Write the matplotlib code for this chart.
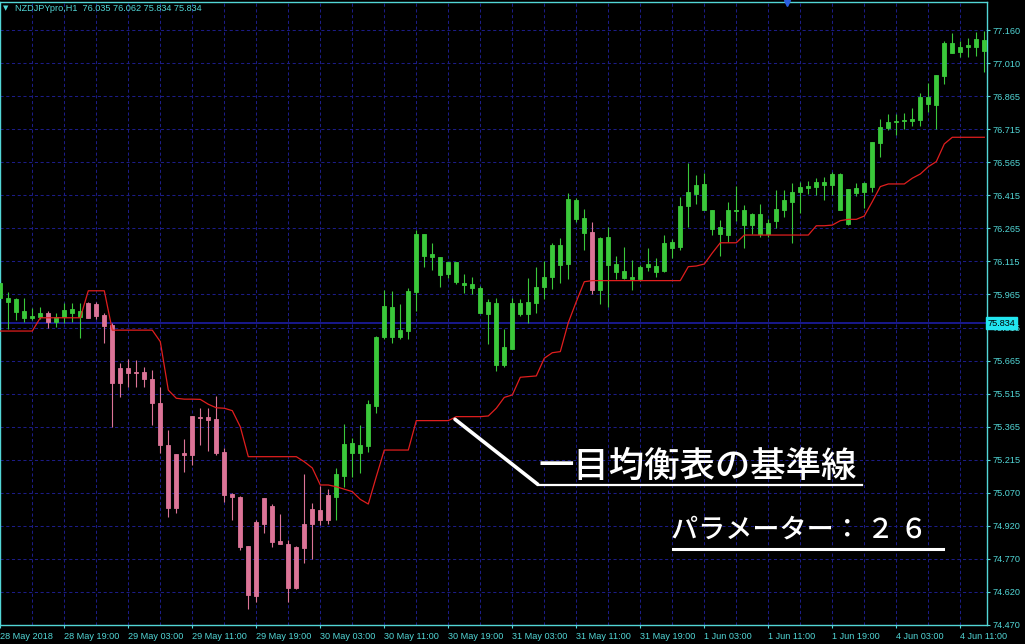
import matplotlib
matplotlib.use("Agg")
import matplotlib.pyplot as plt
from matplotlib.transforms import blended_transform_factory
import numpy as np

# ---------------- data ----------------
header_text = "NZDJPYpro,H1  76.035 76.062 75.834 75.834"
bid_price = 75.834

opens = [75.948, 75.932, 75.886, 75.858, 75.859, 75.864, 75.879, 75.841, 75.864, 75.882,
         75.864, 75.927, 75.921, 75.872, 75.826, 75.631, 75.631, 75.615, 75.615, 75.581,
         75.475, 75.284, 75.243, 75.246, 75.415, 75.412, 75.412, 75.401, 75.252, 75.062,
         75.050, 74.827, 74.937, 75.043, 75.009, 74.850, 74.836, 74.824, 74.927, 74.993,
         74.990, 75.058, 75.050, 75.144, 75.249, 75.249, 75.279, 75.460, 75.771, 75.771,
         75.771, 75.799, 75.977, 76.138, 76.135, 76.052, 76.057, 76.022, 76.006, 75.995,
         75.882, 75.876, 75.645, 75.645, 75.720, 75.876, 75.876, 75.927, 75.999, 76.045,
         76.098, 76.101, 76.304, 76.244, 76.245, 75.985, 76.098, 76.067, 76.037, 76.033,
         76.034, 76.087, 76.065, 76.072, 76.176, 76.180, 76.364, 76.418, 76.346, 76.259,
         76.238, 76.233, 76.340, 76.278, 76.278, 76.238, 76.238, 76.298, 76.346, 76.384,
         76.429, 76.447, 76.452, 76.459, 76.459, 76.346, 76.283, 76.423, 76.426, 76.452,
         76.650, 76.716, 76.745, 76.748, 76.750, 76.753, 76.825, 76.821, 76.952, 77.057,
         77.062, 77.082, 77.085, 77.066]
highs = [76.030, 75.977, 75.948, 75.948, 75.903, 75.908, 75.891, 75.882, 75.926, 75.926,
         75.926, 75.932, 75.932, 75.882, 75.834, 75.653, 75.671, 75.668, 75.638, 75.623,
         75.547, 75.352, 75.243, 75.310, 75.415, 75.450, 75.450, 75.505, 75.269, 75.067,
         75.053, 74.827, 74.945, 75.043, 75.017, 74.972, 74.855, 74.827, 75.151, 75.020,
         75.098, 75.084, 75.180, 75.379, 75.314, 75.374, 75.487, 75.777, 75.985, 75.981,
         75.921, 75.992, 76.256, 76.238, 76.198, 76.135, 76.112, 76.112, 76.057, 76.042,
         76.003, 75.942, 75.947, 75.807, 75.947, 75.942, 76.037, 76.087, 76.116, 76.198,
         76.218, 76.423, 76.399, 76.349, 76.293, 76.223, 76.268, 76.138, 76.180, 76.120,
         76.098, 76.173, 76.128, 76.233, 76.214, 76.405, 76.560, 76.504, 76.512, 76.346,
         76.301, 76.384, 76.455, 76.369, 76.334, 76.373, 76.304, 76.437, 76.437, 76.467,
         76.474, 76.479, 76.490, 76.494, 76.519, 76.515, 76.440, 76.470, 76.474, 76.652,
         76.756, 76.780, 76.780, 76.783, 76.806, 76.874, 76.919, 76.957, 77.112, 77.148,
         77.112, 77.122, 77.152, 77.157]
lows = [75.930, 75.807, 75.849, 75.841, 75.849, 75.853, 75.811, 75.819, 75.835, 75.841,
        75.768, 75.859, 75.852, 75.744, 75.364, 75.501, 75.547, 75.545, 75.545, 75.374,
        75.246, 74.960, 74.975, 75.163, 75.193, 75.284, 75.257, 75.239, 75.027, 74.945,
        74.809, 74.541, 74.575, 74.887, 74.821, 74.838, 74.575, 74.631, 74.752, 74.767,
        74.922, 74.927, 74.945, 75.095, 75.141, 75.156, 75.254, 75.430, 75.762, 75.746,
        75.764, 75.764, 75.891, 76.090, 76.075, 75.999, 76.037, 76.012, 75.972, 75.966,
        75.879, 75.740, 75.620, 75.638, 75.716, 75.867, 75.837, 75.879, 75.942, 75.988,
        76.015, 76.033, 76.293, 76.165, 75.966, 75.921, 75.906, 76.034, 76.033, 75.985,
        76.027, 76.072, 76.042, 76.067, 76.128, 76.165, 76.268, 76.373, 76.346, 76.233,
        76.138, 76.203, 76.298, 76.173, 76.238, 76.223, 76.225, 76.263, 76.313, 76.198,
        76.334, 76.418, 76.414, 76.391, 76.414, 76.346, 76.278, 76.410, 76.354, 76.429,
        76.584, 76.708, 76.685, 76.711, 76.726, 76.726, 76.791, 76.711, 76.916, 77.057,
        77.037, 77.037, 77.042, 76.971]
closes = [76.016, 75.950, 75.944, 75.890, 75.867, 75.882, 75.841, 75.864, 75.894, 75.899,
          75.891, 75.859, 75.868, 75.822, 75.565, 75.565, 75.608, 75.608, 75.581, 75.472,
          75.284, 74.999, 75.000, 75.239, 75.239, 75.406, 75.397, 75.246, 75.058, 75.050,
          74.824, 74.606, 74.601, 74.925, 74.847, 74.838, 74.636, 74.636, 74.820, 74.925,
          74.945, 74.945, 75.153, 75.288, 75.294, 75.284, 75.469, 75.771, 75.912, 75.906,
          75.803, 75.980, 76.238, 76.238, 76.146, 76.135, 76.112, 76.112, 76.018, 76.012,
          75.995, 75.932, 75.926, 75.728, 75.924, 75.924, 75.929, 75.999, 76.045, 76.188,
          76.188, 76.395, 76.391, 76.309, 75.985, 76.218, 76.223, 76.101, 76.070, 76.045,
          76.087, 76.102, 76.093, 76.198, 76.203, 76.364, 76.426, 76.459, 76.464, 76.346,
          76.268, 76.346, 76.346, 76.346, 76.328, 76.328, 76.289, 76.349, 76.391, 76.429,
          76.449, 76.455, 76.473, 76.473, 76.509, 76.509, 76.440, 76.444, 76.467, 76.652,
          76.720, 76.745, 76.750, 76.754, 76.759, 76.856, 76.856, 76.957, 77.103, 77.100,
          77.082, 77.092, 77.118, 77.115]
kijun = [75.799, 75.799, 75.799, 75.799, 75.799, 75.859, 75.859, 75.859, 75.859, 75.859,
         75.859, 75.981, 75.981, 75.981, 75.803, 75.803, 75.803, 75.803, 75.803, 75.803,
         75.751, 75.532, 75.495, 75.491, 75.491, 75.490, 75.468, 75.452, 75.450, 75.439,
         75.366, 75.231, 75.231, 75.231, 75.231, 75.231, 75.231, 75.231, 75.208, 75.180,
         75.103, 75.103, 75.095, 75.084, 75.073, 75.038, 75.017, 75.141, 75.261, 75.261,
         75.261, 75.261, 75.394, 75.394, 75.394, 75.394, 75.394, 75.412, 75.412, 75.412,
         75.412, 75.415, 75.450, 75.499, 75.510, 75.590, 75.593, 75.596, 75.676, 75.701,
         75.706, 75.837, 75.932, 76.022, 76.027, 76.027, 76.027, 76.027, 76.027, 76.027,
         76.027, 76.027, 76.027, 76.027, 76.027, 76.027, 76.090, 76.093, 76.102, 76.152,
         76.198, 76.198, 76.198, 76.233, 76.233, 76.233, 76.233, 76.233, 76.233, 76.233,
         76.233, 76.233, 76.275, 76.275, 76.278, 76.298, 76.304, 76.304, 76.319, 76.384,
         76.452, 76.464, 76.464, 76.464, 76.490, 76.509, 76.542, 76.565, 76.645, 76.675,
         76.675, 76.675, 76.675, 76.675]

time_tick_bars = [0, 8, 16, 24, 32, 40, 48, 56, 64, 72, 80, 88, 96, 104, 112, 120]
time_tick_labels = ["28 May 2018", "28 May 19:00", "29 May 03:00", "29 May 11:00",
                    "29 May 19:00", "30 May 03:00", "30 May 11:00", "30 May 19:00",
                    "31 May 03:00", "31 May 11:00", "31 May 19:00", "1 Jun 03:00",
                    "1 Jun 11:00", "1 Jun 19:00", "4 Jun 03:00", "4 Jun 11:00"]
price_tick_labels = ["74.470", "74.620", "74.770", "74.920", "75.070", "75.215", "75.365",
                     "75.515", "75.665", "75.815", "75.965", "76.115", "76.265", "76.415",
                     "76.565", "76.715", "76.865", "77.010", "77.160"]

annotation_title = "一目均衡表の基準線"
annotation_param = "パラメーター： ２ ６"

# ---------------- styles ----------------
BG = "#000000"
FG = "#52d6d6"
GRID = "#1c1c86"
BULL = "#3ac83a"
BEAR = "#dc7497"
KIJUN = "#e01e1e"
BID = "#2020b4"

W, H = 1025, 644
fig = plt.figure(figsize=(W / 100, H / 100), dpi=100, facecolor=BG)
ax_left, ax_right, ax_top, ax_bot = 0.0, 986.5, 1.5, 625.0
ax = fig.add_axes([ax_left / W, (H - ax_bot) / H, (ax_right - ax_left) / W, (ax_bot - ax_top) / H])
ax.set_facecolor(BG)

n = len(opens)
x = np.arange(n)
o = np.array(opens); h = np.array(highs); l = np.array(lows); c = np.array(closes)

price_ticks = np.linspace(float(price_tick_labels[0]), float(price_tick_labels[-1]), len(price_tick_labels))
step = price_ticks[1] - price_ticks[0]
px_per_price = (ax_bot - 30.0) / (price_ticks[-1] - price_ticks[0])
ax.set_ylim(price_ticks[0], price_ticks[-1] + (30.0 - ax_top) / px_per_price)
ax.set_xlim(-0.3 / 8, (ax_right - 0.3) / 8)

# grid
dash = (0, (3, 2.5))
for yv in price_ticks:
    ax.axhline(yv, color=GRID, lw=0.75, ls=dash, zorder=0)
for xv in range(0, n, 4):
    ax.axvline(xv, color=GRID, lw=0.75, ls=dash, zorder=0)

# bid line
ax.axhline(bid_price, color=BID, lw=1.1, zorder=1)

# candles
cols = [BULL if cc >= oo else BEAR for oo, cc in zip(o, c)]
ax.vlines(x, l, h, colors=cols, lw=0.8, zorder=2)
bottoms = np.minimum(o, c)
heights = np.abs(c - o)
ax.bar(x, heights, bottom=bottoms, width=0.52, color=cols, edgecolor=cols,
       linewidth=0.6, zorder=3)

# Kijun-sen
ax.plot(x, kijun, color=KIJUN, lw=0.9, zorder=4)

# axes frame
for side in ["left", "right", "top", "bottom"]:
    ax.spines[side].set_color(FG)
    ax.spines[side].set_linewidth(1.0)

ax.yaxis.tick_right()
ax.set_yticks(price_ticks)
ax.set_yticklabels(price_tick_labels)
ax.set_xticks(time_tick_bars)
ax.set_xticklabels(time_tick_labels)
ax.tick_params(axis="y", colors=FG, length=2.5, width=0.8, pad=2, labelsize=6.6,
               direction="out")
ax.tick_params(axis="x", colors=FG, length=2.5, width=0.8, pad=2.2, labelsize=6.6,
               direction="out")
for lab in ax.get_xticklabels():
    lab.set_horizontalalignment("left")
    lab.set_fontfamily("Liberation Sans")
for lab in ax.get_yticklabels():
    lab.set_fontfamily("Liberation Sans")

# bid price box on the price scale
tr = blended_transform_factory(ax.transAxes, ax.transData)
ax.text(1.0015, bid_price, f"{bid_price:.3f}", transform=tr, ha="left", va="center",
        fontsize=6.6, family="Liberation Sans", color="#000000", zorder=20, clip_on=False,
        bbox=dict(boxstyle="square,pad=0.18", facecolor="#22e6f0", edgecolor="#22e6f0"))

# header
fig.text(3 / W, 1 - 8.5 / H, "▼", color=FG, fontsize=5, va="center", ha="left",
         family="DejaVu Sans")
fig.text(15 / W, 1 - 8.5 / H, header_text, color=FG, fontsize=6.6, va="center",
         ha="left", family="Liberation Sans")
ax.plot([787 / (ax_right - ax_left)], [1 - 1.5 / (ax_bot - ax_top)], marker="v",
        color="#2a5ee0", markersize=5, transform=ax.transAxes, clip_on=False, zorder=20)

# annotation
def axf(px, py):
    return ((px - ax_left) / (ax_right - ax_left), (ax_bot - py) / (ax_bot - ax_top))

cjk = ["Noto Sans CJK JP", "DejaVu Sans"]
p0 = axf(455, 419.3); p1 = axf(537.7, 484.3)
ax.plot([p0[0], p1[0]], [p0[1], p1[1]], color="white", lw=2.6, transform=ax.transAxes,
        solid_capstyle="round", zorder=15)
u0 = axf(537.7, 485.2); u1 = axf(861.7, 485.2)
ax.plot([u0[0], u1[0]], [u0[1], u1[1]], color="white", lw=1.6, transform=ax.transAxes,
        zorder=15)
t1 = axf(538, 466.5)
ax.text(t1[0], t1[1], annotation_title, transform=ax.transAxes, color="white",
        fontsize=25.5, family=cjk, weight="medium", ha="left", va="center", zorder=15)
u2 = axf(673, 549.3); u3 = axf(943, 549.3)
ax.plot([u2[0], u3[0]], [u2[1], u3[1]], color="white", lw=2.2, transform=ax.transAxes,
        zorder=15)
t2 = axf(671, 530)
ax.text(t2[0], t2[1], annotation_param, transform=ax.transAxes, color="white",
        fontsize=19.5, family=cjk, weight="medium", ha="left", va="center", zorder=15)

fig.savefig("out.png", dpi=100, facecolor=BG)
